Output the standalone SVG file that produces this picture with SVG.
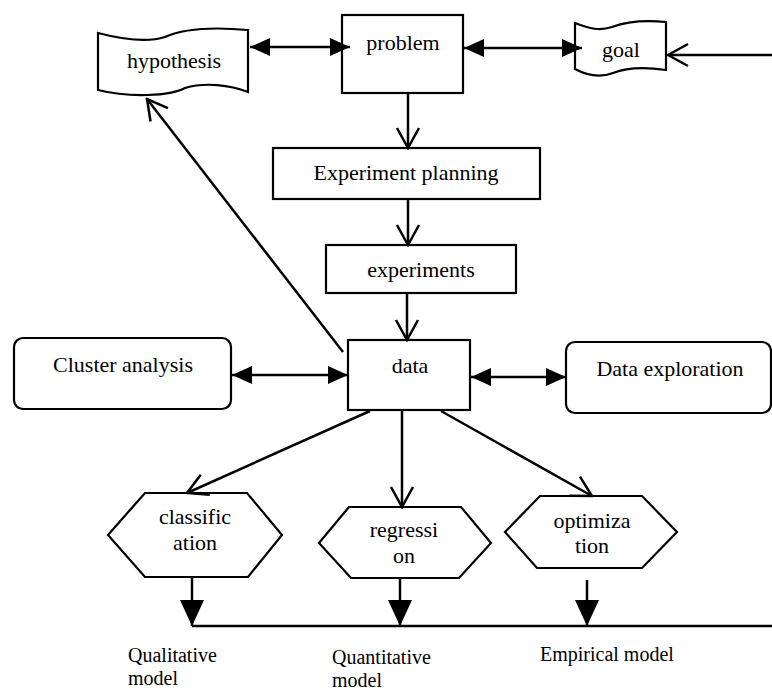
<svg xmlns="http://www.w3.org/2000/svg" width="772" height="693" viewBox="0 0 772 693">
<style>
.box{fill:#fff;stroke:#000;stroke-width:2.2}
.t{font-family:"Liberation Serif","Times New Roman",serif;font-size:22px;fill:#000;text-anchor:middle}
.lb{font-family:"Liberation Serif","Times New Roman",serif;font-size:20px;fill:#000}
.c{stroke:#000;stroke-width:2.5;fill:none}
</style>
<defs>
<marker id="fh" viewBox="0 0 20 18" refX="20" refY="9" markerWidth="20" markerHeight="18" markerUnits="userSpaceOnUse" orient="auto-start-reverse"><path d="M0,0 L20,9 L0,18 Z" fill="#000"/></marker>
<marker id="bh" viewBox="0 0 26 24" refX="26" refY="12" markerWidth="26" markerHeight="24" markerUnits="userSpaceOnUse" orient="auto"><path d="M0,0 L26,12 L0,24 Z" fill="#000"/></marker>
<marker id="oh" viewBox="-2 -2 24 26" refX="20" refY="11" markerWidth="24" markerHeight="26" markerUnits="userSpaceOnUse" orient="auto"><path d="M0,0 L20,11 L0,22" fill="none" stroke="#000" stroke-width="2.5"/></marker>
</defs>
<rect width="772" height="693" fill="#fff"/>
<g id="hypothesis">
<path class="box" d="M98,33 C125,40 150,42 165,37 C185,28 215,27 248,30 L248,92 C230,85 205,82 185,88 C170,96 130,98 98,90 Z"/>
<text class="t" x="174" y="68">hypothesis</text>
</g>
<g id="problem">
<rect class="box" x="342" y="15" width="121" height="78"/>
<text class="t" x="403" y="50">problem</text>
</g>
<g id="goal">
<path class="box" d="M575,23 C590,29 600,31 612,27 C628,21 645,20 666,22 L666,70 C645,67 628,67 613,73 C600,78 588,76 575,69 Z"/>
<text class="t" x="621" y="57">goal</text>
</g>
<g id="experiment-planning">
<rect class="box" x="273" y="148" width="267" height="51"/>
<text class="t" x="406" y="180">Experiment planning</text>
</g>
<g id="experiments">
<rect class="box" x="326" y="245" width="190" height="48"/>
<text class="t" x="421" y="277">experiments</text>
</g>
<g id="data">
<rect class="box" x="348" y="340" width="122" height="70"/>
<text class="t" x="410" y="373">data</text>
</g>
<g id="cluster-analysis">
<rect class="box" x="14" y="338" width="217" height="71" rx="9"/>
<text class="t" x="123" y="372">Cluster analysis</text>
</g>
<g id="data-exploration">
<rect class="box" x="566" y="342" width="205" height="71" rx="9"/>
<text class="t" x="670" y="376">Data exploration</text>
</g>
<g id="classification">
<polygon class="box" points="145,493 247,493 282,535 248,577 145,577 108,535"/>
<text class="t" x="195" y="524">classific</text>
<text class="t" x="195" y="550">ation</text>
</g>
<g id="regression">
<polygon class="box" points="349,507 461,507 491,543 459,578 351,578 319,543"/>
<text class="t" x="404" y="537">regressi</text>
<text class="t" x="404" y="563">on</text>
</g>
<g id="optimization">
<polygon class="box" points="540,496 642,496 677,532 642,568 537,568 505,532"/>
<text class="t" x="592" y="528">optimiza</text>
<text class="t" x="592" y="553">tion</text>
</g>
<g id="connectors">
<line class="c" x1="250" y1="47" x2="350" y2="47" marker-start="url(#fh)" marker-end="url(#fh)"/>
<line class="c" x1="464" y1="48" x2="582" y2="48" marker-start="url(#fh)" marker-end="url(#fh)"/>
<line class="c" x1="772" y1="55" x2="668" y2="55" marker-end="url(#oh)"/>
<line class="c" x1="408" y1="93" x2="408" y2="148" marker-end="url(#oh)"/>
<line class="c" x1="408" y1="199" x2="408" y2="245" marker-end="url(#oh)"/>
<line class="c" x1="407" y1="293" x2="407" y2="340" marker-end="url(#oh)"/>
<line class="c" x1="343" y1="352" x2="147" y2="99" marker-end="url(#oh)"/>
<line class="c" x1="232" y1="375" x2="348" y2="375" marker-start="url(#fh)" marker-end="url(#fh)"/>
<line class="c" x1="471" y1="377" x2="566" y2="377" marker-start="url(#fh)" marker-end="url(#fh)"/>
<line class="c" x1="370" y1="411" x2="187" y2="493" marker-end="url(#oh)"/>
<line class="c" x1="402" y1="410" x2="402" y2="507" marker-end="url(#oh)"/>
<line class="c" x1="441" y1="411" x2="592" y2="496" marker-end="url(#oh)"/>
<line class="c" x1="192" y1="578" x2="192" y2="626" marker-end="url(#bh)"/>
<line class="c" x1="400" y1="579" x2="400" y2="626" marker-end="url(#bh)"/>
<line class="c" x1="587" y1="580" x2="587" y2="626" marker-end="url(#bh)"/>
<line class="c" x1="192" y1="626" x2="772" y2="626"/>
</g>
<g id="labels">
<text class="lb" x="128" y="662">Qualitative</text>
<text class="lb" x="128" y="685">model</text>
<text class="lb" x="332" y="664">Quantitative</text>
<text class="lb" x="332" y="687">model</text>
<text class="lb" x="540" y="661">Empirical model</text>
</g>
</svg>
